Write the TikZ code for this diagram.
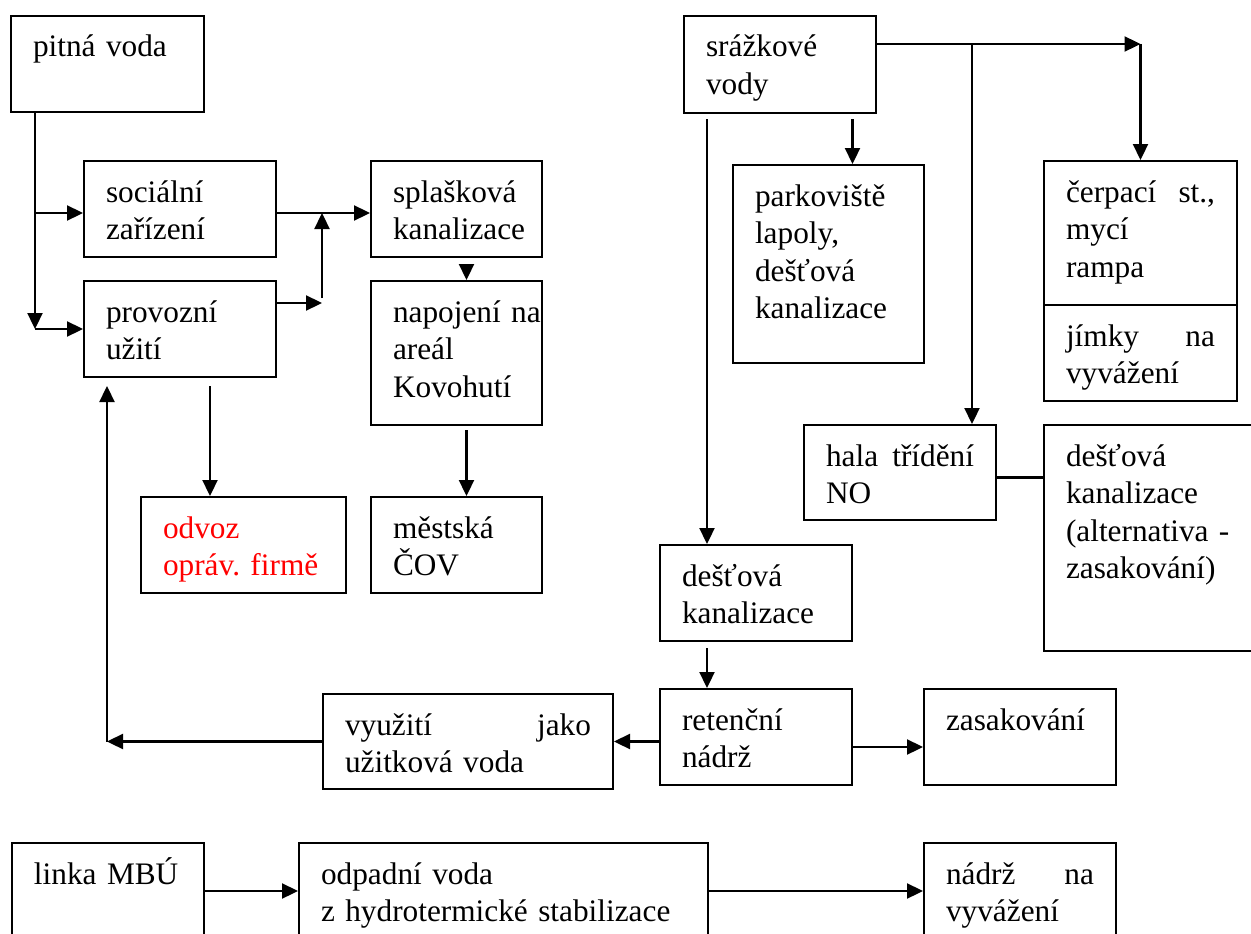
\documentclass[tikz,border=0pt]{standalone}
\usepackage{fontspec}
\setmainfont{Liberation Serif}
\usepackage{tikz}
\usetikzlibrary{arrows.meta, positioning}
\tikzstyle{box} = [rectangle, draw, line width=2pt, anchor=north west, align=left, inner xsep=22pt, inner ysep=0pt, text height=41pt, font=\fontsize{31.3}{37.5}\selectfont]
\tikzstyle{arrow} = [line width=2.3pt, ->, >={Triangle[length=16pt,width=15pt]}]
\tikzstyle{link} = [line width=2.3pt]

\begin{document}
\begin{tikzpicture}[x=1pt, y=-1pt]
    \useasboundingbox (0,0) rectangle (1251,934);
    \clip (0,0) rectangle (1251,934);

    % Node Position Definitions (left part)
    \node [box, text width=149pt, text depth=55pt] (pitna) at (10,15) {pitná voda};
    \node [box, text width=148pt, text depth=55pt] (socialni) at (83,160) {sociální\\zařízení};
    \node [box, text width=148pt, text depth=55pt] (provozni) at (83,280) {provozní\\užití};
    \node [box, text width=127pt, text depth=55pt] (splaskova) at (370,160) {splašková\\kanalizace};
    \node [box, text width=127pt, text depth=103pt] (napojeni) at (370,280) {\makebox[146pt][s]{napojení na}\\areál\\Kovohutí};
    \node [box, text width=161pt, text depth=55pt, text=red] (odvoz) at (140,496) {odvoz\\opráv.~firmě};
    \node [box, text width=127pt, text depth=55pt] (mestska) at (370,496) {městská\\ČOV};

    % Node Position Definitions (right part)
    \node [box, text width=148pt, text depth=56pt] (srazkove) at (683,15) {srážkové\\vody};
    \node [box, text width=147pt, text depth=157pt] (parkoviste) at (732,164) {parkoviště\\lapoly,\\dešťová\\kanalizace};
    \node [box, text width=149pt, text depth=103pt] (cerpaci) at (1043,160) {čerpací\hfill st.,\\mycí\\rampa};
    \node [box, text width=149pt, text depth=55pt] (jimky) at (1043,304) {jímky\hfill na\\vyvážení};
    \node [box, text width=148pt, text depth=54pt] (hala) at (803,424) {hala\hfill třídění\\NO};
    \node [box, text width=175pt, text depth=185pt] (kanal) at (1043,424) {dešťová\\kanalizace\\(alternativa~-\\zasakování)};
    \node [box, text width=148pt, text depth=55pt] (destova) at (659,544) {dešťová\\kanalizace};
    \node [box, text width=148pt, text depth=55pt] (retencni) at (659,688) {retenční\\nádrž};
    \node [box, text width=148pt, text depth=55pt] (zasak) at (923,688) {zasakování};
    \node [box, text width=246pt, text depth=54pt] (vyuziti) at (322,693) {využití\hfill jako\\užitková~voda};

    % Node Position Definitions (bottom line)
    \node [box, text width=148pt, text depth=55pt] (mbu) at (11,842) {linka~MBÚ};
    \node [box, text width=365pt, text depth=55pt] (odpadni) at (298,842) {odpadní voda\\z~hydrotermické~stabilizace};
    \node [box, text width=148pt, text depth=55pt] (nadrz) at (923,842) {nádrž\hfill na\\vyvážení};

    % Connection Arrows: drinking water
    \coordinate (split) at ([xshift=25pt]pitna.south west |- provozni.west);
    \draw [arrow] (pitna.south -| split) -- (split);
    \draw [arrow] ([yshift=-4pt]split |- socialni.west) -- ([yshift=-4pt]socialni.west);
    \draw [arrow] (split) -- (provozni.west);

    % into the sewer
    \coordinate (merge) at (322,303);
    \draw [arrow] ([yshift=-4pt]socialni.east) -- ([yshift=-4pt]splaskova.west);
    \draw [arrow] (provozni.east |- merge) -- (merge);
    \draw [arrow] ([yshift=5pt]merge) -- ([yshift=-4pt]merge |- socialni.east);
    \draw [arrow] ([xshift=10pt,yshift=-6pt]splaskova.south) -- ([xshift=10pt]napojeni.north);
    \draw [arrow] ([xshift=10pt,yshift=-4pt]napojeni.south) -- ([xshift=10pt]mestska.north);
    \draw [arrow] ([xshift=30pt,yshift=-8pt]provozni.south) -- ([xshift=30pt]provozni.south |- odvoz.north);

    % Loop back as service water
    \coordinate (back) at ([xshift=24pt]provozni.south west |- vyuziti.west);
    \draw [arrow] (retencni.west |- vyuziti.east) -- (vyuziti.east);
    \draw [arrow] (vyuziti.west) -- (back);
    \draw [arrow, shorten >=8pt] (back) -- (back |- provozni.south);

    % Rain water
    \coordinate (tee) at (972,44);
    \draw [arrow] ([xshift=24pt,yshift=-5pt]srazkove.south west) -- ([xshift=24pt]srazkove.south west |- destova.north);
    \draw [arrow] ([xshift=24pt,yshift=-5pt]parkoviste.north |- srazkove.south) -- ([xshift=24pt]parkoviste.north);
    \draw [arrow] (srazkove.east |- tee) -- (tee -| cerpaci.north);
    \draw [arrow] (tee -| cerpaci.north) -- (cerpaci.north);
    \draw [arrow] (tee) -- (tee |- hala.north);
    \draw [link] ([yshift=-5pt]hala.east) -- ([yshift=-5pt]hala.east -| kanal.west);
    \draw [arrow] ([xshift=48pt,yshift=-6pt]destova.south west) -- ([xshift=48pt]destova.south west |- retencni.north);
    \draw [arrow] ([yshift=-10pt]retencni.east) -- ([yshift=-10pt]zasak.west);

    % MBU line
    \draw [arrow] (mbu.east) -- (odpadni.west);
    \draw [arrow] (odpadni.east) -- (nadrz.west);
\end{tikzpicture}
\end{document}
